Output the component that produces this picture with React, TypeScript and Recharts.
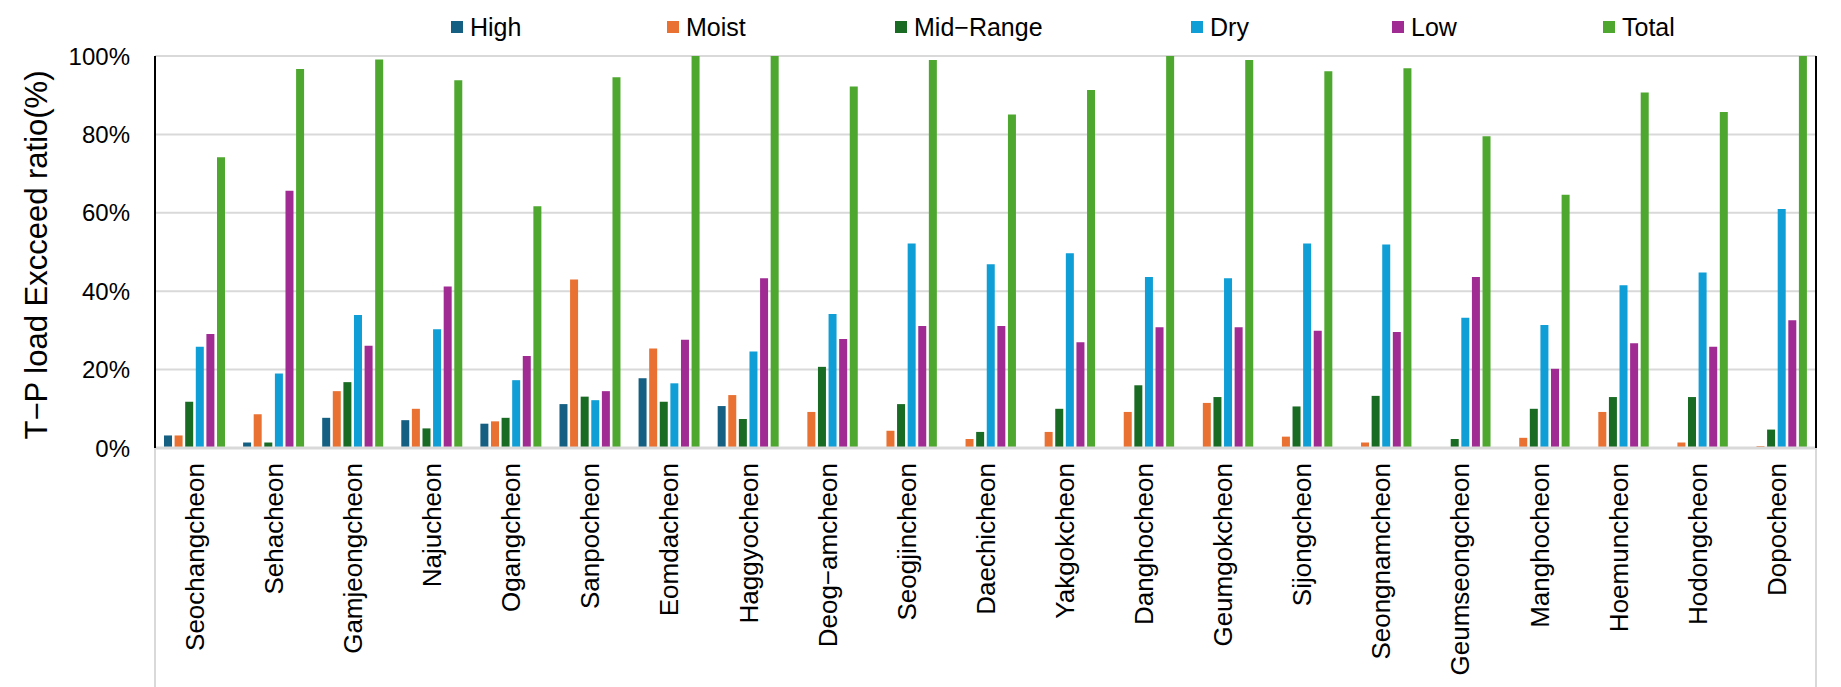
import React from "react"
import {
    BarChart,
    Bar,
    XAxis,
    YAxis,
    CartesianGrid,
    Legend
} from "recharts"

const categories = [
    'Seochangcheon', 'Sehacheon', 'Gamjeongcheon', 'Najucheon', 'Ogangcheon', 'Sanpocheon',
    'Eomdacheon', 'Haggyocheon', 'Deog\u2212amcheon', 'Seogjincheon', 'Daechicheon', 'Yakgokcheon',
    'Danghocheon', 'Geumgokcheon', 'Sijongcheon', 'Seongnamcheon', 'Geumseongcheon', 'Manghocheon',
    'Hoemuncheon', 'Hodongcheon', 'Dopocheon'
]

const high = [3.2, 1.4, 7.7, 7.1, 6.2, 11.2, 17.8, 10.7, 0, 0, 0, 0, 0, 0, 0, 0, 0, 0, 0, 0, 0]
const moist = [3.2, 8.6, 14.5, 10.0, 6.8, 43.0, 25.4, 13.5, 9.2, 4.4, 2.3, 4.1, 9.2, 11.5, 2.9, 1.4, 0, 2.6, 9.2, 1.4, 0.5]
const midRange = [11.8, 1.4, 16.8, 5.0, 7.7, 13.1, 11.8, 7.4, 20.7, 11.2, 4.1, 10.0, 16.0, 13.0, 10.6, 13.3, 2.3, 10.0, 13.0, 13.0, 4.7]
const dry = [25.8, 19.0, 33.9, 30.3, 17.3, 12.2, 16.5, 24.6, 34.2, 52.2, 46.9, 49.7, 43.6, 43.3, 52.2, 51.9, 33.2, 31.4, 41.5, 44.8, 61.0]
const low = [29.1, 65.6, 26.1, 41.2, 23.5, 14.5, 27.6, 43.3, 27.8, 31.1, 31.1, 27.0, 30.8, 30.8, 29.9, 29.6, 43.6, 20.2, 26.7, 25.8, 32.6]
const total = [74.2, 96.7, 99.1, 93.8, 61.7, 94.6, 100, 100, 92.2, 99.0, 85.1, 91.3, 100, 99.0, 96.1, 96.9, 79.5, 64.6, 90.7, 85.7, 100]

const yTicks = [0, 20, 40, 60, 80, 100]

const SERIES = [
    { key: 'high', name: 'High', color: '#156082' },
    { key: 'moist', name: 'Moist', color: '#E97132' },
    { key: 'midRange', name: 'Mid\u2212Range', color: '#196B24' },
    { key: 'dry', name: 'Dry', color: '#0F9ED5' },
    { key: 'low', name: 'Low', color: '#A02B93' },
    { key: 'total', name: 'Total', color: '#4EA72E' }
]

// legend item left edges (px), Excel spaced them unevenly
const LEGEND_X = [451, 667, 895, 1191, 1392, 1603]

const W = 1841
const H = 687
const PLOT_LEFT = 155
const PLOT_RIGHT = 25
const PLOT_TOP = 56
const X_AXIS_H = 239
const HALF_BAND = (W - PLOT_LEFT - PLOT_RIGHT) / categories.length / 2
const FONT = '"Liberation Sans", Arial, sans-serif'

const data = categories.map((name, i) => ({
    name,
    high: high[i],
    moist: moist[i],
    midRange: midRange[i],
    dry: dry[i],
    low: low[i],
    total: total[i]
}))

function CategoryTick(props: any) {
    const { x, y, payload, index } = props
    const last = index === categories.length - 1
    return (
        <g>
            {index === 0 && (
                <line x1={x - HALF_BAND} x2={x - HALF_BAND} y1={y} y2={H} stroke="#d9d9d9" strokeWidth={2} />
            )}
            {last && (
                <line x1={x + HALF_BAND} x2={x + HALF_BAND} y1={y} y2={H} stroke="#d9d9d9" strokeWidth={2} />
            )}
            <g transform={`translate(${x},${y + 15})`}>
                <text
                    transform="rotate(-90)"
                    textAnchor="end"
                    dy="0.36em"
                    fontSize={26}
                    fontFamily={FONT}
                    fill="#000"
                >
                    {payload.value}
                </text>
            </g>
        </g>
    )
}

function LegendContent() {
    return (
        <div style={{ position: 'relative', width: W, height: 50, fontFamily: FONT }}>
            {SERIES.map((s, i) => (
                <div
                    key={s.key}
                    style={{
                        position: 'absolute',
                        left: LEGEND_X[i],
                        top: 10,
                        display: 'flex',
                        alignItems: 'center',
                        whiteSpace: 'nowrap'
                    }}
                >
                    <span style={{ display: 'inline-block', width: 12, height: 12, background: s.color, marginRight: 7 }} />
                    <span style={{ fontSize: 25, color: '#000', lineHeight: '34px' }}>{s.name}</span>
                </div>
            ))}
        </div>
    )
}

function YLabel(props: any) {
    const cx = 36
    const cy = 255
    return (
        <text
            x={cx}
            y={cy}
            transform={`rotate(-90 ${cx} ${cy})`}
            textAnchor="middle"
            dominantBaseline="central"
            fontSize={31}
            fontFamily={FONT}
            fill="#000"
        >
            T{'\u2212'}P load Excceed ratio(%)
        </text>
    )
}

export default function App() {
    return (
        <div style={{ position: 'absolute', left: 0, top: 0, width: W, height: H, background: '#fff' }}>
            <BarChart
                width={W}
                height={H}
                data={data}
                margin={{ top: PLOT_TOP, right: 0, left: 0, bottom: 0 }}
                barSize={8}
                barGap={2.6}
            >
                <CartesianGrid vertical={false} stroke="#d9d9d9" strokeWidth={2} />
                <XAxis
                    dataKey="name"
                    interval={0}
                    height={X_AXIS_H}
                    tickLine={false}
                    tickSize={0}
                    tickMargin={0}
                    axisLine={{ stroke: '#d9d9d9', strokeWidth: 3 }}
                    tick={<CategoryTick />}
                />
                <XAxis
                    xAxisId="top"
                    dataKey="name"
                    orientation="top"
                    height={0}
                    tick={false}
                    tickLine={false}
                    axisLine={{ stroke: '#000', strokeWidth: 2 }}
                />
                <YAxis
                    width={PLOT_LEFT}
                    domain={[0, 100]}
                    ticks={yTicks}
                    allowDataOverflow
                    tickFormatter={(v) => `${v}%`}
                    tickLine={false}
                    tickSize={20}
                    tickMargin={5}
                    axisLine={{ stroke: '#000', strokeWidth: 2 }}
                    tick={{ fontSize: 24, fill: '#000', fontFamily: FONT }}
                    label={{ content: <YLabel /> }}
                />
                <YAxis
                    yAxisId="right"
                    orientation="right"
                    width={PLOT_RIGHT}
                    domain={[0, 100]}
                    tick={false}
                    tickLine={false}
                    axisLine={{ stroke: '#000', strokeWidth: 2 }}
                />
                <Legend
                    layout="horizontal"
                    verticalAlign="middle"
                    align="center"
                    wrapperStyle={{ top: 0, left: 0, width: W, height: 50 }}
                    content={<LegendContent />}
                />
                {SERIES.map((s) => (
                    <Bar key={s.key} dataKey={s.key} name={s.name} fill={s.color} isAnimationActive={false} />
                ))}
            </BarChart>
        </div>
    )
}
